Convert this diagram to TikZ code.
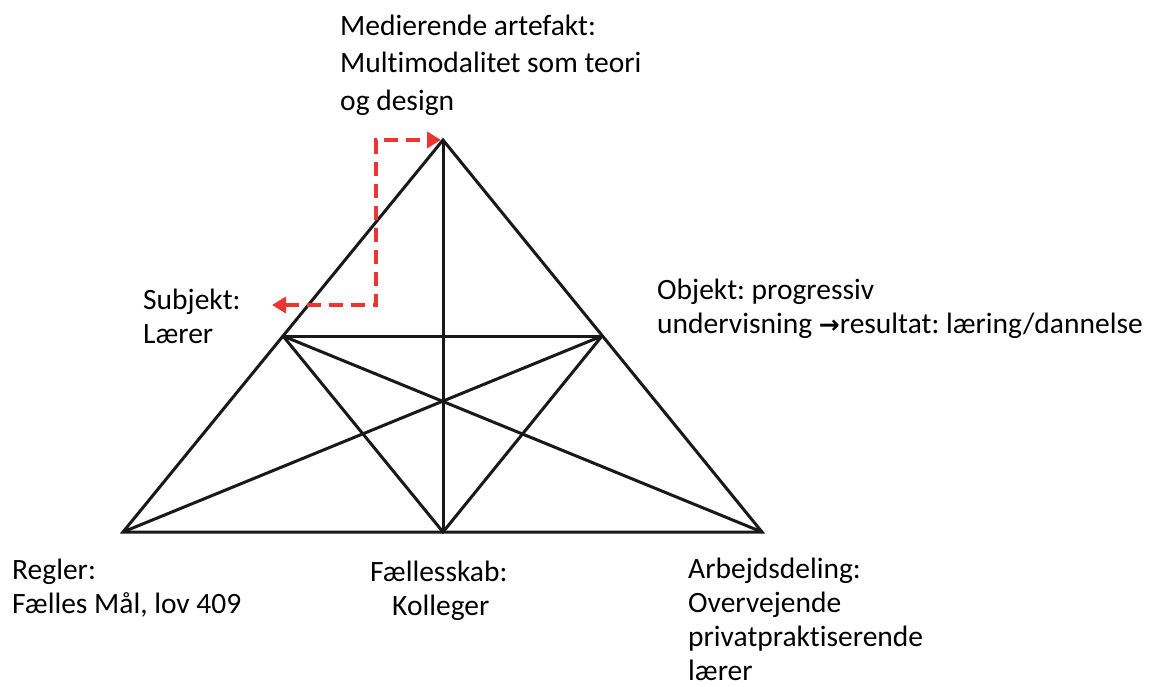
\documentclass[tikz,border=0pt]{standalone}
\usepackage{fontspec}
\setmainfont{Carlito}[Ligatures=NoCommon]
\newfontfamily\arrowfont{DejaVu Sans}
\usetikzlibrary{arrows.meta}
\definecolor{arrred}{HTML}{EC3431}
\frenchspacing
\tikzset{
  edge/.style={line width=3pt, line join=miter, black!90},
  lbl/.style={anchor=base west, align=left, inner sep=0pt, font=\fontsize{29.5}{34}\selectfont\frenchspacing},
  lbltop/.style={lbl, font=\fontsize{29.5}{37.5}\selectfont\frenchspacing},
  redarrow/.style={arrred, line width=4pt, dash pattern=on 14pt off 8pt, {Triangle[length=14pt,width=16pt]}-{Triangle[length=14pt,width=16pt]}}
}
\begin{document}
\begin{tikzpicture}[x=1pt,y=-1pt]
\useasboundingbox (0,0) rectangle (1151,686);
\coordinate (A) at (443,140);
\coordinate (L) at (123,532);
\coordinate (R) at (762,532);
\coordinate (LM) at (283,336);
\coordinate (RM) at (602,336);
\coordinate (BM) at (443,532);
\draw[edge] (A) -- (L) -- (R) -- cycle;
\draw[edge] (A) -- (BM);
\draw[edge] (LM) -- (RM);
\draw[edge] (LM) -- (BM) -- (RM);
\draw[edge] (L) -- (RM);
\draw[edge] (R) -- (LM);
\coordinate (s) at (272,305);
\coordinate (c1) at (376,305);
\coordinate (c2) at (376,140);
\coordinate (e) at (441,140);
\draw[redarrow] (s) -- (c1) -- (c2) -- (e);
\node[lbltop] (med) at (340,110) {Medierende artefakt:\\Multimodalitet som teori\\og design};
\node[lbl] (subj) at (143,343) {Subjekt:\\Lærer};
\node[lbl] (obj) at (657,333) {Objekt: progressiv\\undervisning {\arrowfont\bfseries\fontsize{25}{34}\selectfont →}resultat: læring/dannelse};
\node[lbl] (reg) at (12,613) {Regler:\\Fælles Mål, lov 409};
\node[lbl] (fael) at (370,615) {Fællesskab:\\\hspace*{22pt}Kolleger};
\node[lbl] (arb) at (688,680) {Arbejdsdeling:\\Overvejende\\privatpraktiserende\\lærer};
\end{tikzpicture}
\end{document}
